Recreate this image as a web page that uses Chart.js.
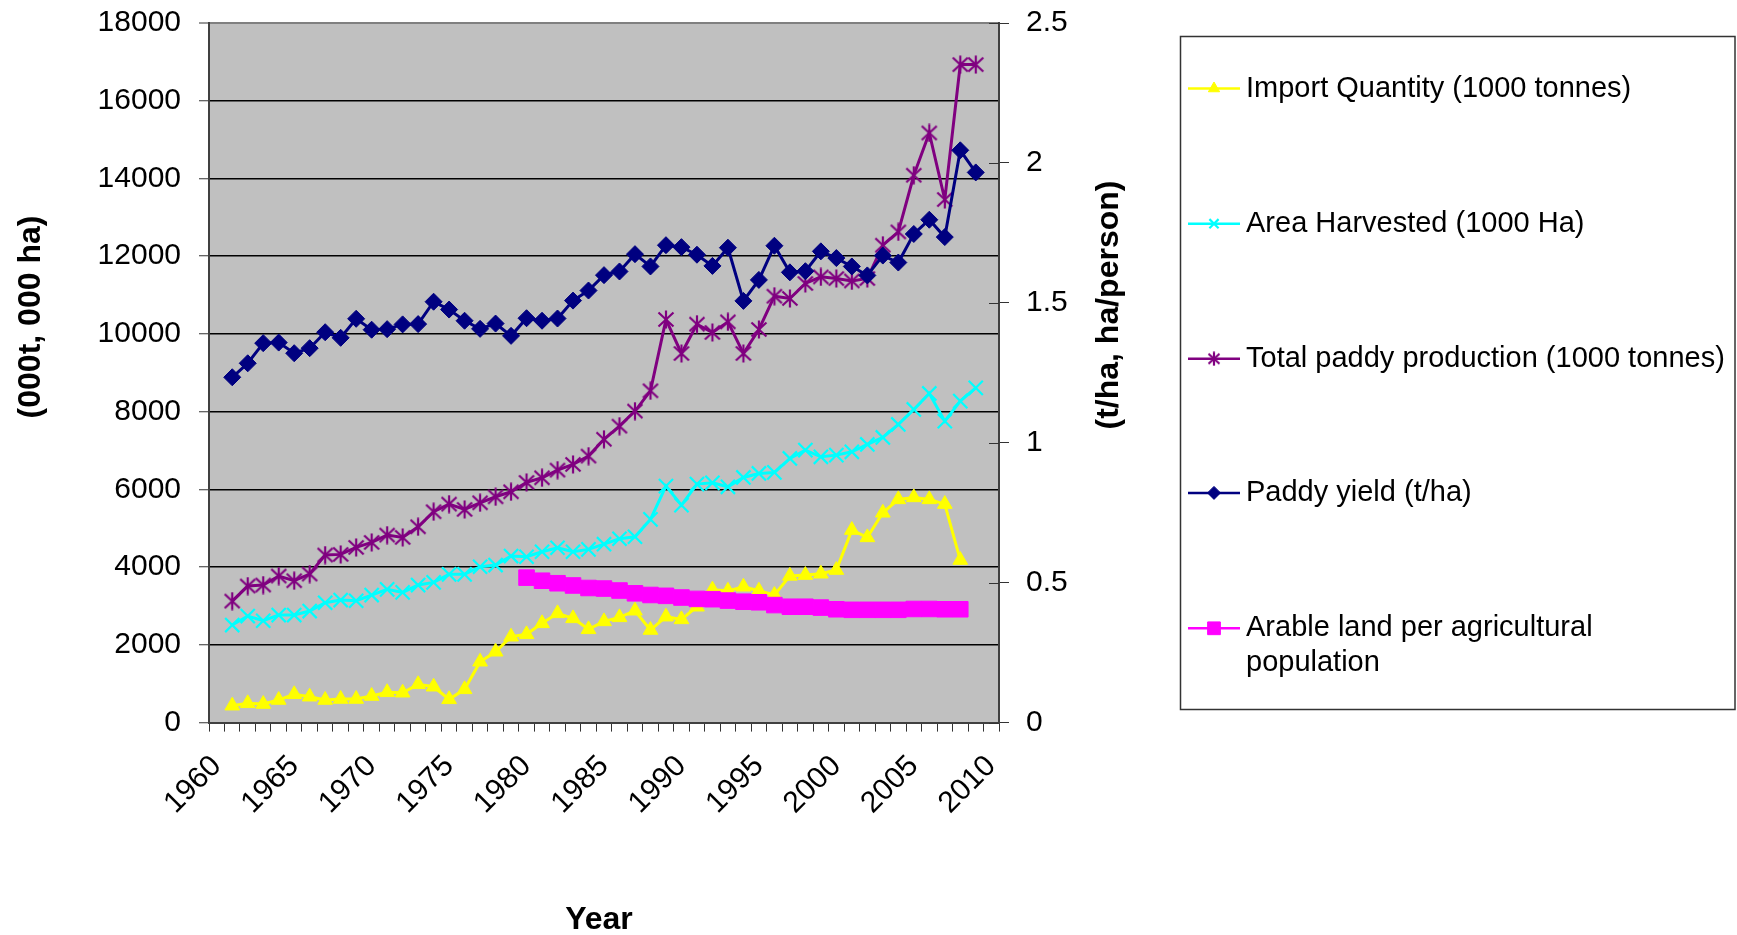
<!DOCTYPE html>
<html>
<head>
<meta charset="utf-8">
<script src="https://cdn.jsdelivr.net/npm/chart.js@4/dist/chart.umd.min.js"></script>
<style>
  html, body { margin: 0; padding: 0; background: #fff; }
  #wrap { width: 1737px; height: 935px; }
</style>
</head>
<body>
<div id="wrap"><canvas id="c" width="1737" height="935"></canvas></div>
<script>
// Year categories on the x axis
const years = [1960, 1961, 1962, 1963, 1964, 1965, 1966, 1967, 1968, 1969,
               1970, 1971, 1972, 1973, 1974, 1975, 1976, 1977, 1978, 1979,
               1980, 1981, 1982, 1983, 1984, 1985, 1986, 1987, 1988, 1989,
               1990, 1991, 1992, 1993, 1994, 1995, 1996, 1997, 1998, 1999,
               2000, 2001, 2002, 2003, 2004, 2005, 2006, 2007, 2008, 2009, 2010];

// Import Quantity (1000 tonnes), 1961-2008
const importStart = 1961;
const importQuantity = [435, 496, 478, 581, 728, 666, 581, 607, 607,
  684, 779, 769, 985, 923, 599, 856, 1566, 1823, 2209,
  2271, 2554, 2811, 2682, 2400, 2604, 2708, 2878, 2382, 2725,
  2656, 2981, 3420, 3390, 3495, 3392, 3282, 3775, 3796, 3830,
  3925, 4953, 4765, 5398, 5743, 5794, 5743, 5622, 4182];

// Area Harvested (1000 Ha), 1961-2009
const areaStart = 1961;
const areaHarvested = [2510, 2742, 2621, 2767, 2767, 2870, 3084, 3153, 3135,
  3282, 3428, 3351, 3539, 3608, 3814, 3814, 4010, 4053, 4285,
  4267, 4396, 4499, 4396, 4457, 4590, 4730, 4782, 5228, 6085,
  5596, 6136, 6170, 6067, 6308, 6411, 6437, 6797, 7011, 6839,
  6882, 6967, 7157, 7337, 7671, 8057, 8469, 7757, 8271, 8613];

// Total paddy production (1000 tonnes), 1961-2009
const productionStart = 1961;
const totalProduction = [3127, 3513, 3539, 3771, 3651, 3822, 4311, 4328, 4508,
  4637, 4825, 4765, 5039, 5425, 5622, 5486, 5656, 5810, 5939,
  6180, 6299, 6497, 6643, 6857, 7290, 7628, 8014, 8537, 10372,
  9497, 10251, 10038, 10311, 9497, 10115, 10971, 10912, 11298, 11468,
  11426, 11365, 11426, 12283, 12625, 14083, 15171, 13458, 16930, 16930];

// Paddy yield (t/ha), 1961-2009
const yieldStart = 1961;
const paddyYield = [1.234, 1.284, 1.356, 1.358, 1.320, 1.338, 1.395, 1.375, 1.443,
  1.404, 1.406, 1.423, 1.424, 1.504, 1.476, 1.436, 1.407, 1.426, 1.382,
  1.445, 1.436, 1.444, 1.508, 1.544, 1.599, 1.612, 1.674, 1.630, 1.706,
  1.699, 1.672, 1.632, 1.697, 1.507, 1.582, 1.704, 1.609, 1.613, 1.684,
  1.660, 1.630, 1.598, 1.669, 1.644, 1.746, 1.797, 1.735, 2.045, 1.966];

// Arable land per agricultural population (ha/person), 1980-2008
const arableStart = 1980;
const arableLand = [0.518, 0.507, 0.498, 0.490, 0.481, 0.479, 0.472, 0.462, 0.456, 0.453,
  0.447, 0.442, 0.441, 0.436, 0.432, 0.430, 0.420, 0.414, 0.414, 0.411,
  0.405, 0.403, 0.403, 0.403, 0.403, 0.406, 0.406, 0.405, 0.405];

// Left and right axis tick settings
const leftTicks = { min: 0, max: 18000, step: 2000 };
const rightTicks = { min: 0, max: 2.5, step: 0.5 };

// Place a series that begins at a given year onto the full year list
function alignToYears(startYear, values) {
  return years.map(y => {
    const k = y - startYear;
    return (k >= 0 && k < values.length) ? values[k] : null;
  });
}

// Asterisk marker: an X crossed by a vertical bar
function makeAsterisk(color, w, h) {
  const c = document.createElement('canvas');
  c.width = w; c.height = h;
  const g = c.getContext('2d');
  g.strokeStyle = color;
  g.lineWidth = 2.2;
  g.beginPath();
  g.moveTo(w / 2, 0.5); g.lineTo(w / 2, h - 0.5);
  g.moveTo(1.5, 2.5); g.lineTo(w - 1.5, h - 2.5);
  g.moveTo(w - 1.5, 2.5); g.lineTo(1.5, h - 2.5);
  g.stroke();
  return c;
}
const asterisk = makeAsterisk('#800080', 18, 19);
const asteriskSmall = makeAsterisk('#800080', 14, 15);

const FONT = "'Liberation Sans', Arial, Helvetica, sans-serif";

const datasets = [
  {
    label: 'Import Quantity (1000 tonnes)',
    data: alignToYears(importStart, importQuantity),
    yAxisID: 'y',
    borderColor: '#FFFF00', backgroundColor: '#FFFF00',
    pointStyle: 'triangle', pointRadius: 8.5, pointBorderWidth: 1,
    borderWidth: 3, order: 5
  },
  {
    label: 'Area Harvested (1000 Ha)',
    data: alignToYears(areaStart, areaHarvested),
    yAxisID: 'y',
    borderColor: '#00FFFF', backgroundColor: '#00FFFF',
    pointStyle: 'crossRot', pointRadius: 10, pointBorderWidth: 2.2,
    borderWidth: 3, order: 4
  },
  {
    label: 'Total paddy production (1000 tonnes)',
    data: alignToYears(productionStart, totalProduction),
    yAxisID: 'y',
    borderColor: '#800080', backgroundColor: '#800080',
    pointStyle: asterisk, legendStyle: asteriskSmall, pointRadius: 9, pointBorderWidth: 2,
    borderWidth: 3, order: 3
  },
  {
    label: 'Paddy yield (t/ha)',
    data: alignToYears(yieldStart, paddyYield),
    yAxisID: 'y1',
    borderColor: '#000080', backgroundColor: '#000080',
    pointStyle: 'rectRot', pointRadius: 8.5, pointBorderWidth: 1,
    borderWidth: 3, order: 2
  },
  {
    label: 'Arable land per agricultural population',
    legendLines: ['Arable land per agricultural', 'population'],
    data: alignToYears(arableStart, arableLand),
    yAxisID: 'y1',
    borderColor: '#FF00FF', backgroundColor: '#FF00FF',
    pointStyle: 'rect', pointRadius: 11, pointBorderWidth: 1,
    borderWidth: 3, order: 1
  }
];

// Grey plot background
const plotBackground = {
  id: 'plotBackground',
  beforeDraw(chart) {
    const a = chart.chartArea, ctx = chart.ctx;
    ctx.save();
    ctx.fillStyle = '#C0C0C0';
    ctx.fillRect(a.left, a.top, a.right - a.left, a.bottom - a.top);
    ctx.restore();
  }
};

// Right-axis tick marks also reach inside the plot
const innerRightTicks = {
  id: 'innerRightTicks',
  afterDatasetsDraw(chart) {
    const s = chart.scales.y1, ctx = chart.ctx;
    ctx.save();
    ctx.strokeStyle = '#333';
    ctx.lineWidth = 1;
    s.ticks.forEach(t => {
      const y = Math.round(s.getPixelForValue(t.value)) + 0.5;
      ctx.beginPath();
      ctx.moveTo(s.left - 10, y);
      ctx.lineTo(s.left, y);
      ctx.stroke();
    });
    ctx.restore();
  }
};

// Axis titles
const axisTitles = {
  id: 'axisTitles',
  afterDraw(chart) {
    const ctx = chart.ctx;
    ctx.save();
    ctx.fillStyle = '#000';
    ctx.font = `bold 32px ${FONT}`;
    ctx.textAlign = 'center';
    ctx.textBaseline = 'middle';
    ctx.fillText('Year', 599, 920);
    ctx.save();
    ctx.translate(31, 317);
    ctx.rotate(-Math.PI / 2);
    ctx.fillText('(000t, 000 ha)', 0, 0);
    ctx.restore();
    ctx.save();
    ctx.translate(1109, 305);
    ctx.rotate(-Math.PI / 2);
    ctx.fillText('(t/ha, ha/person)', 0, 0);
    ctx.restore();
    ctx.restore();
  }
};

// Boxed legend on the right, one entry per series
const boxedLegend = {
  id: 'boxedLegend',
  afterDraw(chart) {
    const ctx = chart.ctx;
    const rows = [88.5, 223.7, 358.8, 492.9, 628.3];
    ctx.save();
    ctx.strokeStyle = '#333';
    ctx.lineWidth = 1.5;
    ctx.strokeRect(1180.5, 36.5, 554.5, 673);
    chart.data.datasets.forEach((ds, i) => {
      const y = rows[i];
      ctx.strokeStyle = ds.borderColor;
      ctx.lineWidth = 2.5;
      ctx.beginPath();
      ctx.moveTo(1188, y);
      ctx.lineTo(1240, y);
      ctx.stroke();
      ctx.fillStyle = ds.backgroundColor;
      ctx.strokeStyle = ds.borderColor;
      ctx.lineWidth = ds.pointBorderWidth;
      const small = ds.pointStyle === 'rect' ? 9 : 6.5;
      Chart.helpers.drawPoint(ctx, {
        pointStyle: ds.legendStyle || ds.pointStyle, radius: small, rotation: 0, borderWidth: ds.pointBorderWidth
      }, 1214, y);
      ctx.fillStyle = '#000';
      ctx.font = `29px ${FONT}`;
      ctx.textAlign = 'left';
      ctx.textBaseline = 'middle';
      const lines = ds.legendLines || [ds.label];
      lines.forEach((t, k) => ctx.fillText(t, 1246, y + k * 34.3));
    });
    ctx.restore();
  }
};

// Fixed axis box sizes so the plot area lands where it should
function fixVertical(width) {
  return s => { s.width = width; s.paddingTop = 0; s.paddingBottom = 0; };
}

new Chart(document.getElementById('c'), {
  type: 'line',
  data: { labels: years, datasets },
  plugins: [plotBackground, innerRightTicks, axisTitles, boxedLegend],
  options: {
    responsive: false,
    devicePixelRatio: 1,
    animation: false,
    layout: { padding: { top: 23, left: 0, right: 0, bottom: 0 } },
    elements: { line: { tension: 0 } },
    plugins: { legend: { display: false }, tooltip: { enabled: false } },
    scales: {
      x: {
        type: 'category',
        offset: true,
        grid: { offset: true, drawOnChartArea: false, drawTicks: true, tickLength: 9, tickColor: '#333', lineWidth: 1 },
        border: { color: '#404040', width: 2 },
        ticks: {
          autoSkip: false, minRotation: 45, maxRotation: 45, padding: 17,
          color: '#000', font: { family: FONT, size: 30 },
          callback: (v, i) => (years[i] % 5 === 0 ? String(years[i]) : '')
        },
        afterFit: s => { s.height = 212.4; s.paddingLeft = 0; s.paddingRight = 0; }
      },
      y: {
        position: 'left',
        min: leftTicks.min, max: leftTicks.max,
        ticks: {
          stepSize: leftTicks.step, padding: 18, color: '#000',
          font: { family: FONT, size: 30 },
          callback: v => String(v)
        },
        grid: {
          color: c => (c.tick && c.tick.value === leftTicks.max ? '#808080' : '#000'),
          lineWidth: c => (c.tick && c.tick.value === leftTicks.max ? 2 : 1.5),
          tickLength: 10, tickColor: '#333', tickWidth: 1
        },
        border: { color: '#404040', width: 2 },
        afterFit: fixVertical(209)
      },
      y1: {
        position: 'right',
        min: rightTicks.min, max: rightTicks.max,
        ticks: {
          stepSize: rightTicks.step, padding: 17, color: '#000',
          font: { family: FONT, size: 30 },
          callback: v => String(v)
        },
        grid: { drawOnChartArea: false, tickLength: 10, tickColor: '#333', tickWidth: 1 },
        border: { color: '#404040', width: 2 },
        afterFit: fixVertical(738)
      }
    }
  }
});
</script>
</body>
</html>
